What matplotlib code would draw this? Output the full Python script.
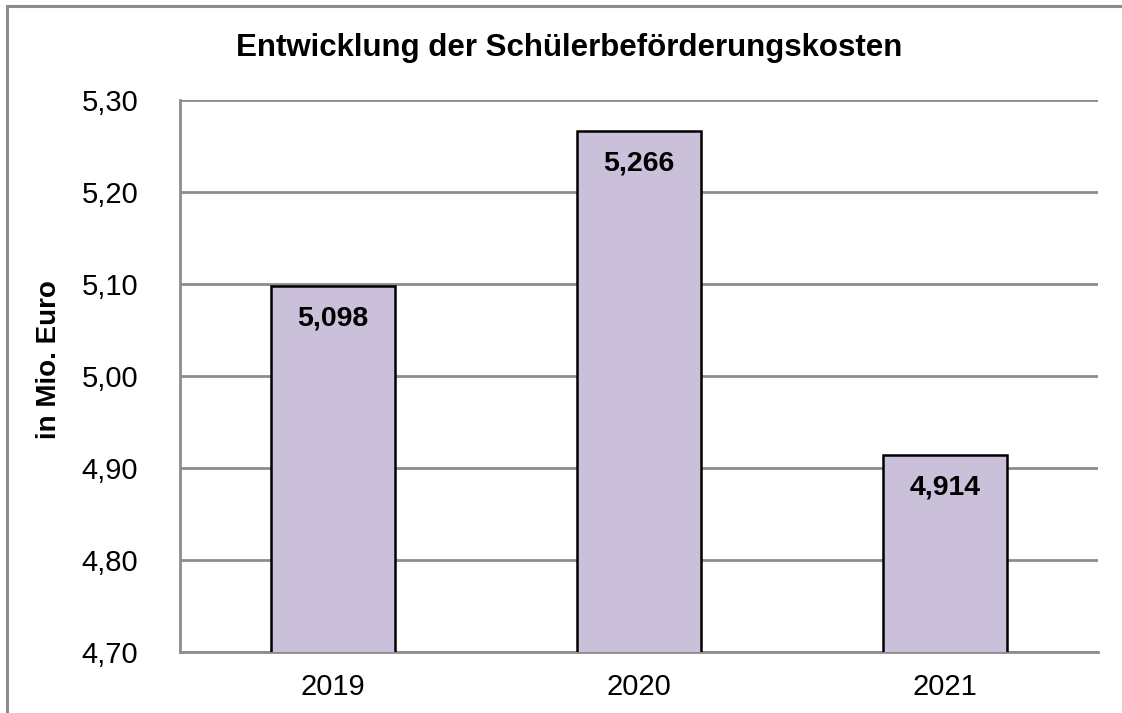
import matplotlib.pyplot as plt
from matplotlib.patches import Rectangle
from matplotlib.ticker import FuncFormatter

plt.rcParams['font.family'] = ['Liberation Sans', 'DejaVu Sans']

years = ['2019', '2020', '2021']
costs = [5.098, 5.266, 4.914]
y_ticks = [4.70, 4.80, 4.90, 5.00, 5.10, 5.20, 5.30]

fig = plt.figure(figsize=(11.22, 7.13), dpi=100)
ax = fig.add_axes([180 / 1122, 1 - 652 / 713, 918 / 1122, 552 / 713])

# outer frame (only top and left edges visible in the picture)
fig.patches.append(Rectangle((7 / 1122, -0.1), 1.2, 1 - 6 / 713 + 0.1,
                             transform=fig.transFigure, fill=False,
                             edgecolor='#8c8c8c', linewidth=2.2))

x = range(len(years))
bars = ax.bar(x, costs, width=0.405, color='#cbc0da', edgecolor='black',
              linewidth=1.8, zorder=3)

for i, v in enumerate(costs):
    ax.text(i, v - 0.021, f'{v:.3f}'.replace('.', ','), ha='center', va='top',
            fontsize=20.5, fontweight='bold', zorder=4)

ax.set_xlim(-0.5, 2.5)
ax.set_ylim(4.70, 5.30)
ax.set_yticks(y_ticks)
ax.yaxis.set_major_formatter(FuncFormatter(lambda v, p: f'{v:.2f}'.replace('.', ',')))
ax.set_xticks(list(x))
ax.set_xticklabels(years)
ax.tick_params(axis='both', length=0, labelsize=21)
ax.tick_params(axis='y', pad=30)
ax.tick_params(axis='x', pad=15)

ax.grid(axis='y', color='#8c8c8c', linewidth=2, zorder=0)
for s in ['top', 'right']:
    ax.spines[s].set_visible(False)
for s in ['left', 'bottom']:
    ax.spines[s].set_color('#8c8c8c')
    ax.spines[s].set_linewidth(2)

ax.set_ylabel('in Mio. Euro', fontsize=20, fontweight='bold')
ax.yaxis.set_label_coords(-0.129, 0.53)
fig.text(569 / 1122, 1 - 48 / 713, 'Entwicklung der Schülerbeförderungskosten',
         ha='center', va='center', fontsize=22.5, fontweight='bold')

fig.savefig('out.png', dpi=100)
